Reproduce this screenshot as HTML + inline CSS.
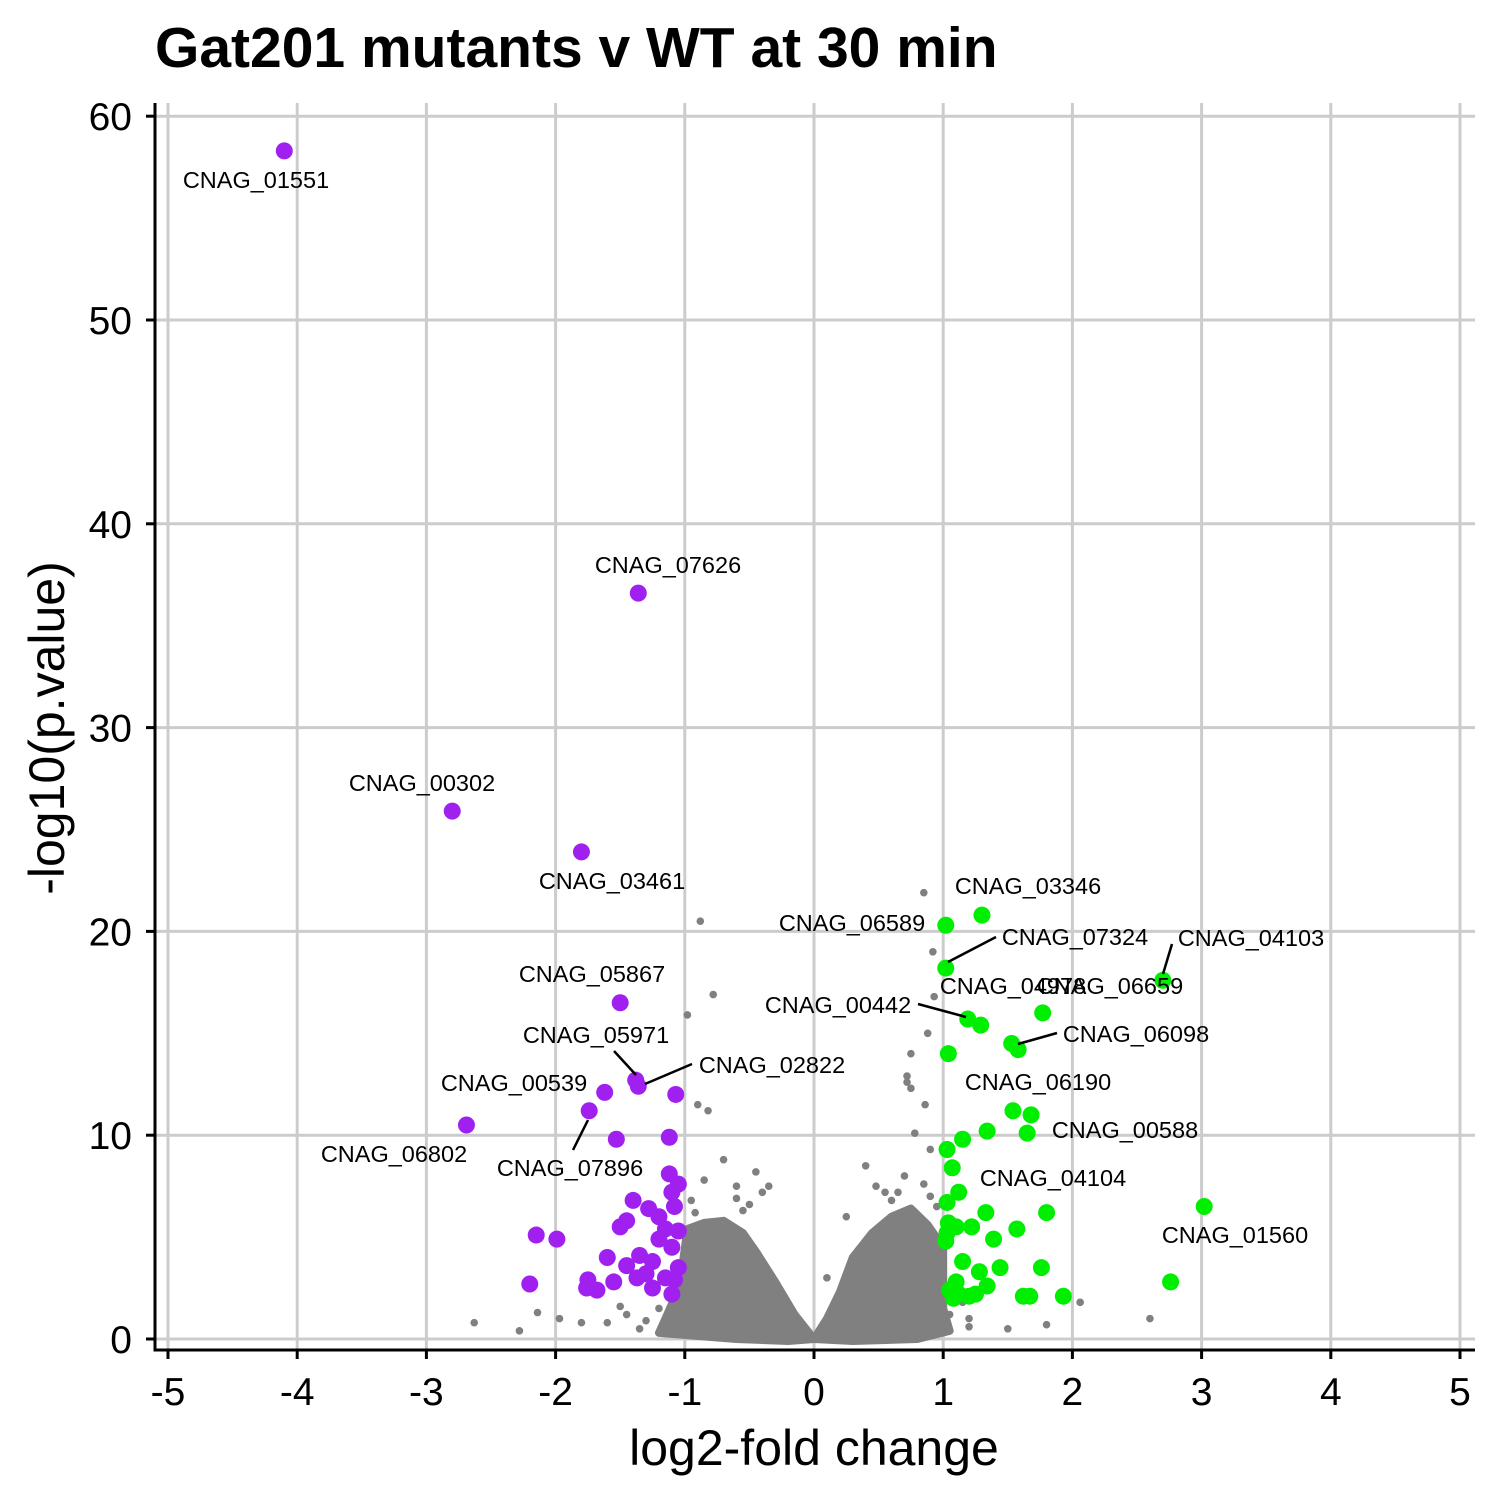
<!DOCTYPE html>
<html><head><meta charset="utf-8"><style>
body{margin:0;background:#fff}
svg{display:block;font-family:"Liberation Sans",Arial,sans-serif}
</style></head><body>
<svg id="chart" width="1500" height="1500" viewBox="0 0 1500 1500" xmlns="http://www.w3.org/2000/svg">
<text x="155" y="67" font-size="57" font-weight="bold">Gat201 mutants v WT at 30 min</text>
<g id="grid"></g>
<g id="cloud"></g>
<g id="pts"></g>
<g id="labels"></g>
<g id="axes"></g>
<text x="814" y="1465" font-size="50" text-anchor="middle">log2-fold change</text>
<text transform="translate(64,728) rotate(-90)" font-size="50" text-anchor="middle">-log10(p.value)</text>
</svg>
<script>
const xTicks=[-5,-4,-3,-2,-1,0,1,2,3,4,5];
const yTicks=[0,10,20,30,40,50,60];
const purpleX=[-4.1,-1.36,-2.8,-1.8,-1.5,-1.36,-1.38,-1.07,-1.62,-2.69,-1.74,-1.53,-1.12,-1.12,-1.4,-1.28,-1.45,-1.5,-1.2,-2.15,-1.99,-1.6,-1.35,-1.45,-1.25,-1.3,-1.37,-1.75,-1.76,-1.68,-1.55,-2.2,-1.1,-1.05,-1.08,-1.15,-1.05,-1.1,-1.2,-1.05,-1.15,-1.08,-1.25,-1.1];
const purpleY=[58.3,36.6,25.9,23.9,16.5,12.4,12.7,12.0,12.1,10.5,11.2,9.8,9.9,8.1,6.8,6.4,5.8,5.5,6.0,5.1,4.9,4.0,4.1,3.6,3.8,3.2,3.0,2.9,2.5,2.4,2.8,2.7,2.2,7.6,6.5,5.4,5.3,4.5,4.9,3.5,3.0,2.9,2.5,7.2];
const greenX=[1.3,1.02,1.02,2.7,1.77,1.19,1.29,1.53,1.58,1.04,1.54,1.68,1.34,1.65,1.15,1.03,1.07,3.02,1.12,1.03,1.33,1.8,1.04,1.1,1.22,1.57,1.03,1.39,1.02,1.15,1.44,1.76,1.28,1.1,1.05,1.12,1.2,1.34,1.62,1.67,1.93,2.76,1.08,1.25];
const greenY=[20.8,20.3,18.2,17.6,16.0,15.7,15.4,14.5,14.2,14.0,11.2,11.0,10.2,10.1,9.8,9.3,8.4,6.5,7.2,6.7,6.2,6.2,5.7,5.5,5.5,5.4,5.2,4.9,4.8,3.8,3.5,3.5,3.3,2.8,2.4,2.2,2.1,2.6,2.1,2.1,2.1,2.8,2.0,2.2];
const grayX=[-0.88,0.85,0.92,-0.78,-0.98,0.93,0.88,0.75,0.72,0.72,0.75,-0.9,-0.82,0.78,-0.45,0.48,0.55,0.7,0.9,-2.63,-2.28,-2.14,-1.97,-1.8,1.2,1.8,2.06,0.86,0.4,-0.7,-0.6,0.9,-1.2,-1.3,-1.45,-1.6,-1.5,-1.35,-0.95,-0.85,-0.6,-0.55,-0.35,0.1,0.25,0.6,0.65,0.95,1.05,1.15,1.2,0.95,-0.92,-1.0,1.5,2.6,-0.5,-0.4,0.15,0.85];
const grayY=[20.5,21.9,19.0,16.9,15.9,16.8,15.0,14.0,12.6,12.9,12.3,11.5,11.2,10.1,8.2,7.5,7.2,8.0,7.0,0.8,0.4,1.3,1.0,0.8,0.6,0.7,1.8,11.5,8.5,8.8,7.5,9.3,1.5,0.9,1.2,0.8,1.6,0.5,6.8,7.8,6.9,6.3,7.5,3.0,6.0,6.8,7.2,2.8,1.2,1.8,1.0,6.5,6.2,4.0,0.5,1.0,6.6,7.2,1.6,7.6];
const leftLobeX=[0,-0.15,-0.3,-0.45,-0.55,-0.7,-0.85,-0.98,-1.02,-1.08,-1.15,-1.2,-0.6,-0.2];
const leftLobeY=[0,1.2,2.8,4.3,5.2,5.8,5.7,5.4,3.5,2.0,1.0,0.3,0,-0.1];
const rightLobeX=[0,0.1,0.2,0.3,0.45,0.6,0.75,0.88,1.0,1.0,1.05,0.8,0.3];
const rightLobeY=[0,1,2.3,4,5.2,6,6.4,5.6,4.5,1.5,0.4,0,-0.1];
const NS='http://www.w3.org/2000/svg';
const X=v=>814+v*129.2, Y=v=>1339-v*20.38;
function mk(p,t,a){const e=document.createElementNS(NS,t);for(const k in a)e.setAttribute(k,a[k]);p.appendChild(e);return e;}
const grid=document.getElementById('grid'),axes=document.getElementById('axes');
xTicks.forEach(t=>{
 const l=mk(grid,'line',{x1:X(t),x2:X(t),y1:103,y2:1350,stroke:'#cccccc','stroke-width':3});
 
 
 const tk=mk(axes,'line',{x1:X(t),x2:X(t),y1:1350,y2:1359,stroke:'#000','stroke-width':3});
 
 
 const tx=mk(axes,'text',{x:X(t),y:1405,'font-size':39,'text-anchor':'middle'});tx.textContent=t;
 
 
});
yTicks.forEach(t=>{
 const l=mk(grid,'line',{x1:155,x2:1475,y1:Y(t),y2:Y(t),stroke:'#cccccc','stroke-width':3});
 
 
 const tk=mk(axes,'line',{x1:146,x2:155,y1:Y(t),y2:Y(t),stroke:'#000','stroke-width':3});
 
 
 const tx=mk(axes,'text',{x:132,y:Y(t)+14,'font-size':39,'text-anchor':'end'});tx.textContent=t;
 
 
});
const ax=mk(axes,'path',{d:'M155,103 V1350 H1475',fill:'none',stroke:'#000','stroke-width':3});


const cloud=document.getElementById('cloud');
[[leftLobeX,leftLobeY,'left-lobe'],[rightLobeX,rightLobeY,'right-lobe']].forEach(([xs,ys,n])=>{
 const p=mk(cloud,'polygon',{points:xs.map((v,i)=>X(v)+','+Y(ys[i])).join(' '),fill:'#808080',stroke:'#808080','stroke-width':8,'stroke-linejoin':'round'});
 
 
});
const pts=document.getElementById('pts');
grayX.forEach((v,i)=>{const c=mk(pts,'circle',{cx:X(v),cy:Y(grayY[i]),r:3.8,fill:'#808080'});
 
 });
purpleX.forEach((v,i)=>{const c=mk(pts,'circle',{cx:X(v),cy:Y(purpleY[i]),r:8.5,fill:'#a020f0'});
 
 });
greenX.forEach((v,i)=>{const c=mk(pts,'circle',{cx:X(v),cy:Y(greenY[i]),r:8.5,fill:'#00ee00'});
 
 });
const labs=[['CNAG_01551',256,188],['CNAG_07626',668,573],['CNAG_00302',422,791],['CNAG_03461',612,889],['CNAG_05867',592,982],['CNAG_05971',596,1043],['CNAG_02822',772,1073],['CNAG_00539',514,1091],['CNAG_06802',394,1162],['CNAG_07896',570,1176],['CNAG_03346',1028,894],['CNAG_06589',852,931],['CNAG_07324',1075,945],['CNAG_04103',1251,946],['CNAG_04978',1013,994],['CNAG_06659',1110,994],['CNAG_00442',838,1013],['CNAG_06098',1136,1042],['CNAG_06190',1038,1090],['CNAG_00588',1125,1138],['CNAG_04104',1053,1186],['CNAG_01560',1235,1243]];
const lg=document.getElementById('labels');
[[614,1051,636,1075],[692,1064,645,1084],[573,1150,588,1120],[996,937,948,962],[1172,944,1163,974],[918,1004,966,1017],[1057,1033,1018,1044]].forEach(s=>{
 const l=mk(lg,'line',{x1:s[0],y1:s[1],x2:s[2],y2:s[3],stroke:'#000','stroke-width':2.5});
 
 
});
labs.forEach(([t,x,y])=>{const e=mk(lg,'text',{x:x,y:y,'font-size':23.5,'text-anchor':'middle'});e.textContent=t;
 
 });
</script>
</body></html>
